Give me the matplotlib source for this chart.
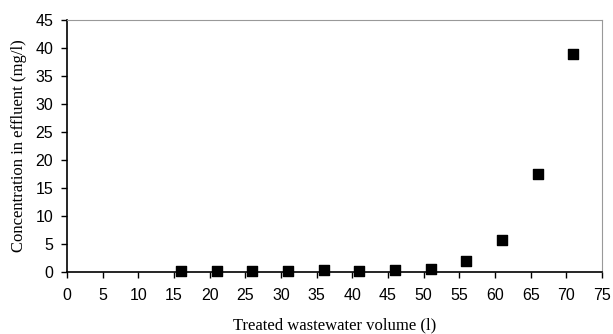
import numpy as np
import matplotlib.pyplot as plt

# treated volume (l) vs effluent concentration (mg/l)
volume = [16, 21, 26, 31, 36, 41, 46, 51, 56, 61, 66, 71]
conc = [0.1, 0.1, 0.1, 0.1, 0.25, 0.1, 0.35, 0.55, 1.9, 5.6, 17.5, 39.0]

fig = plt.figure(figsize=(6.13, 3.34), dpi=100)
ax = fig.add_axes([67 / 613, 1 - 271.7 / 334, (602 - 67) / 613, (271.7 - 20) / 334])

ax.scatter(volume, conc, marker="s", s=50, color="black", zorder=3, clip_on=False)

ax.set_xlim(0, 75)
ax.set_ylim(0, 45)
ax.set_xticks(np.arange(0, 76, 5))
ax.set_yticks(np.arange(0, 46, 5))

for side in ["top", "right"]:
    ax.spines[side].set_color("#999999")
for side in ["left", "bottom"]:
    ax.spines[side].set_color("black")
    ax.spines[side].set_linewidth(1.2)

ax.tick_params(direction="out", length=4, width=1, labelsize=11.5)
ax.tick_params(axis="x", pad=8)
ax.tick_params(axis="y", pad=6)
for lab in ax.get_xticklabels() + ax.get_yticklabels():
    lab.set_fontfamily("Liberation Sans")

ax.set_xlabel("Treated wastewater volume (l)", family="Liberation Serif",
              fontsize=12, labelpad=10)
ax.set_ylabel("Concentration in effluent (mg/l)", family="Liberation Serif",
              fontsize=12, labelpad=6)

fig.savefig("out.png", dpi=100)
